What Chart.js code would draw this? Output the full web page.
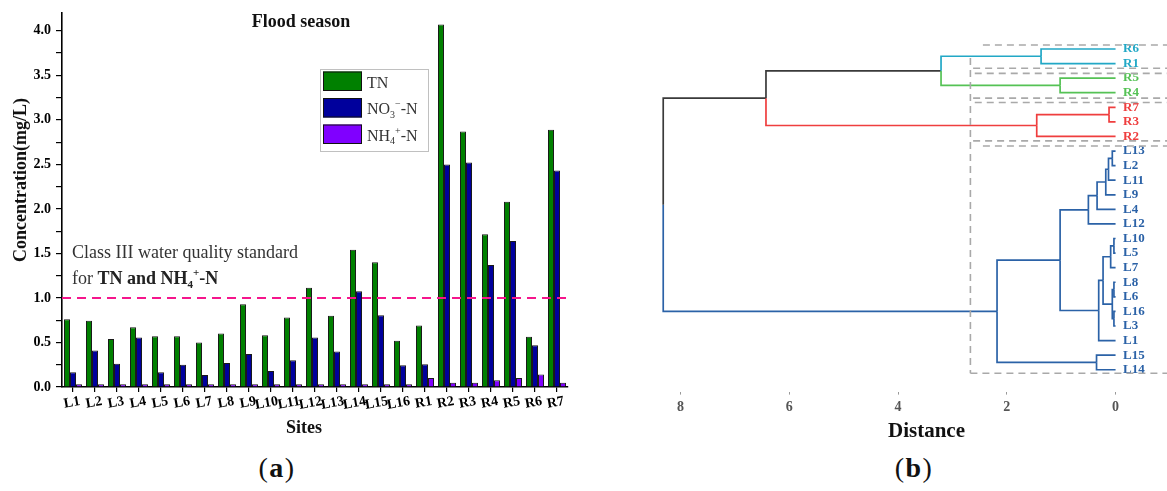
<!DOCTYPE html>
<html>
<head>
<meta charset="utf-8">
<script src="https://cdn.jsdelivr.net/npm/chart.js@4/dist/chart.umd.min.js"></script>
<style>
  body { margin: 0; background: #fff; }
  #wrap { position: relative; width: 1167px; height: 491px; overflow: hidden; font-family: "Liberation Serif", serif; }
  #chartA { position: absolute; left: 0; top: 0; }
  #chartB { position: absolute; left: 600px; top: 0; }
  .cap { position: absolute; top: 452px; width: 90px; text-align: center; font-size: 28px; color: #111; letter-spacing: 1.5px; }
</style>
</head>
<body>
<div id="wrap">
  <canvas id="chartA" width="590" height="445"></canvas>
  <canvas id="chartB" width="567" height="445"></canvas>
  <div class="cap" style="left:232px">(<b>a</b>)</div>
  <div class="cap" style="left:869px">(<b>b</b>)</div>
</div>
<script>
// ---- panel (a): flood season concentrations ----
const sites = ['L1', 'L2', 'L3', 'L4', 'L5', 'L6', 'L7', 'L8', 'L9', 'L10', 'L11', 'L12',
  'L13', 'L14', 'L15', 'L16', 'R1', 'R2', 'R3', 'R4', 'R5', 'R6', 'R7'];
const tnValues = [0.76, 0.745, 0.54, 0.67, 0.57, 0.57, 0.50, 0.60, 0.93, 0.58, 0.78, 1.115,
  0.80, 1.54, 1.40, 0.52, 0.69, 4.07, 2.87, 1.715, 2.08, 0.565, 2.89];
const no3Values = [0.165, 0.41, 0.26, 0.555, 0.165, 0.25, 0.135, 0.27, 0.37, 0.18, 0.30, 0.555,
  0.40, 1.075, 0.805, 0.245, 0.255, 2.50, 2.52, 1.37, 1.64, 0.47, 2.43];
const nh4Values = [0.03, 0.03, 0.03, 0.03, 0.03, 0.03, 0.03, 0.03, 0.03, 0.03, 0.03, 0.03,
  0.03, 0.03, 0.03, 0.03, 0.10, 0.048, 0.048, 0.075, 0.10, 0.14, 0.048];
const seriesNames = ['TN', 'NO_{3}^{\u2212}-N', 'NH_{4}^{+}-N'];
const yMajorTicks = [0, 0.5, 1.0, 1.5, 2.0, 2.5, 3.0, 3.5, 4.0];
const standardValue = 1.0;

// ---- panel (b): dendrogram ----
const leaves = ['R6', 'R1', 'R5', 'R4', 'R7', 'R3', 'R2', 'L13', 'L2', 'L11', 'L9', 'L4', 'L12',
  'L10', 'L5', 'L7', 'L8', 'L6', 'L16', 'L3', 'L1', 'L15', 'L14'];
const leafCluster = ['c', 'c', 'g', 'g', 'r', 'r', 'r', 'b', 'b', 'b', 'b', 'b', 'b',
  'b', 'b', 'b', 'b', 'b', 'b', 'b', 'b', 'b', 'b'];
// merge k creates node 23 + k from nodes mergeA[k] and mergeB[k]
const mergeA = [7, 23, 24, 25, 26, 13, 28, 16, 18, 30, 29, 33, 27, 21, 35, 4, 38, 0, 2, 40, 42, 43];
const mergeB = [8, 9, 10, 11, 12, 14, 15, 17, 19, 31, 32, 20, 34, 22, 36, 5, 6, 1, 3, 41, 39, 37];
const mergeHeight = [0.06, 0.13, 0.18, 0.34, 0.50, 0.03, 0.09, 0.03, 0.03, 0.06, 0.23, 0.31,
  1.02, 0.35, 2.18, 0.12, 1.45, 1.37, 1.02, 3.21, 6.43, 8.32];
const distanceTicks = [0, 2, 4, 6, 8];
// cluster cut boxes (leaf position of each edge, distance where the dash starts)
const cutDistance = 2.67;
const boxEdgePos = [-0.27, 1.32, 1.67, 3.37, 3.67, 6.30, 6.65, 22.24];
const boxEdgeStart = [2.44, 2.62, 2.59, 2.62, 2.59, 2.62, 2.44, 2.67];

const clusterColors = { c: '#22a8c6', g: '#55c255', r: '#ef3e3e', b: '#2b62a7', k: '#3a3a3a' };
const SERIF = '"Liberation Serif", serif';
Chart.defaults.font.family = SERIF;

function parseRich(s) {
  const out = [];
  const re = /([_^])\{([^}]*)\}|([^_^]+)/g;
  let m;
  while ((m = re.exec(s))) out.push(m[3] !== undefined ? { t: m[3], k: '' } : { t: m[2], k: m[1] });
  return out;
}
function plain(s) { return s.replace(/[_^]\{([^}]*)\}/g, '$1'); }
function drawRich(ctx, s, x, y, size, weight, color) {
  ctx.fillStyle = color;
  ctx.textAlign = 'left';
  ctx.textBaseline = 'alphabetic';
  for (const p of parseRich(s)) {
    const small = p.k !== '';
    ctx.font = weight + ' ' + (small ? Math.round(size * 0.62) : size) + 'px ' + SERIF;
    const dy = p.k === '_' ? size * 0.22 : (p.k === '^' ? -size * 0.42 : 0);
    ctx.fillText(p.t, x, y + dy);
    x += ctx.measureText(p.t).width;
  }
  return x;
}

// dashed standard line + texts + legend for panel (a)
const panelAExtras = {
  id: 'panelAExtras',
  afterDatasetsDraw(chart) {
    const { ctx, chartArea, scales } = chart;
    const y = scales.y.getPixelForValue(standardValue);
    ctx.save();
    ctx.strokeStyle = '#f5168c';
    ctx.lineWidth = 2;
    ctx.setLineDash([9, 6]);
    ctx.beginPath();
    ctx.moveTo(chartArea.left, y);
    ctx.lineTo(chartArea.right, y);
    ctx.stroke();
    ctx.restore();
  },
  afterDraw(chart) {
    const { ctx } = chart;
    ctx.save();
    ctx.fillStyle = '#111';
    ctx.font = 'bold 18px ' + SERIF;
    ctx.textAlign = 'center';
    ctx.fillText('Flood season', 301, 26.5);
    ctx.fillText('Sites', 304, 433);
    ctx.save();
    ctx.translate(25.5, 180);
    ctx.rotate(-Math.PI / 2);
    ctx.fillText('Concentration(mg/L)', 0, 0);
    ctx.restore();

    drawRich(ctx, 'Class III water quality standard', 72, 258, 18, 'normal', '#333');
    const x2 = drawRich(ctx, 'for ', 72, 284, 18, 'normal', '#333');
    drawRich(ctx, 'TN and NH_{4}^{+}-N', x2, 284, 18, 'bold', '#222');

    // legend
    ctx.strokeStyle = '#c0c0c0';
    ctx.lineWidth = 1;
    ctx.strokeRect(320.5, 69.5, 108, 82);
    chart.data.datasets.forEach((ds, i) => {
      const top = 71.5 + i * 26.5;
      ctx.fillStyle = ds.backgroundColor;
      ctx.fillRect(323, top, 39, 19.5);
      ctx.strokeStyle = '#111';
      ctx.strokeRect(323.5, top + 0.5, 38, 18.5);
      drawRich(ctx, seriesNames[i], 367, top + 16, 16, 'normal', '#333');
    });
    ctx.restore();
  }
};

const barColors = ['#008000', '#00009c', '#8000ff'];
const seriesValues = [tnValues, no3Values, nh4Values];

new Chart(document.getElementById('chartA'), {
  type: 'bar',
  data: {
    labels: sites,
    datasets: seriesValues.map((vals, i) => ({
      label: plain(seriesNames[i]),
      data: vals,
      backgroundColor: barColors[i],
      borderColor: '#1a1a1a',
      borderWidth: 1,
      categoryPercentage: 0.82,
      barPercentage: 1.0
    }))
  },
  options: {
    responsive: false,
    animation: false,
    events: [],
    layout: { autoPadding: false, padding: { top: 13, left: 0, right: 22, bottom: 0 } },
    plugins: { legend: { display: false }, tooltip: { enabled: false } },
    scales: {
      x: {
        offset: true,
        grid: { drawOnChartArea: false, offset: false, tickLength: 5, color: '#000', lineWidth: 1.2 },
        border: { color: '#000', width: 1.6 },
        ticks: {
          autoSkip: false, minRotation: 10, maxRotation: 10, labelOffset: 7, padding: 1,
          color: '#000', font: { size: 14, weight: 'bold' }
        },
        afterFit(s) { s.height = 58; s.paddingLeft = 0; s.paddingRight = 0; }
      },
      y: {
        min: 0,
        max: 4.2,
        afterBuildTicks(s) {
          const t = [];
          yMajorTicks.forEach((v, i) => {
            t.push({ value: v });
            if (i < yMajorTicks.length - 1) t.push({ value: (v + yMajorTicks[i + 1]) / 2 });
          });
          s.ticks = t;
        },
        grid: { drawOnChartArea: false, tickLength: 6, color: '#000', lineWidth: 1.2 },
        border: { color: '#000', width: 1.6 },
        ticks: {
          padding: 5, color: '#000', font: { size: 14, weight: 'bold' },
          callback: v => (yMajorTicks.includes(v) ? v.toFixed(1) : '')
        },
        afterFit(s) { s.width = 62; s.paddingTop = 0; s.paddingBottom = 0; }
      }
    }
  },
  plugins: [panelAExtras]
});

// ---- build dendrogram geometry in data units ----
const nLeaf = leaves.length;
const nodePos = leaves.map((_, i) => i);
const nodeH = leaves.map(() => 0);
const nodeCol = leafCluster.slice();
mergeA.forEach((a, k) => {
  const b = mergeB[k];
  nodePos.push((nodePos[a] + nodePos[b]) / 2);
  nodeH.push(mergeHeight[k]);
  nodeCol.push(nodeCol[a] === nodeCol[b] ? nodeCol[a] : 'k');
});

const treeSets = [];
mergeA.forEach((a, k) => {
  const node = nLeaf + k;
  [a, mergeB[k]].forEach(c => {
    treeSets.push({
      data: [
        { x: nodeH[c], y: nodePos[c] },
        { x: mergeHeight[k], y: nodePos[c] },
        { x: mergeHeight[k], y: nodePos[node] }
      ],
      borderColor: clusterColors[nodeCol[c]],
      borderWidth: 1.7
    });
  });
});

const boxStyle = { borderColor: '#a9a9a9', borderWidth: 1.6, borderDash: [7, 5], clip: false };
const boxSets = boxEdgePos.map((p, i) => Object.assign({
  data: [{ x: boxEdgeStart[i], y: p }, { x: -1.2, y: p }]
}, boxStyle));
boxSets.push(Object.assign({
  data: [{ x: cutDistance, y: 0.62 }, { x: cutDistance, y: boxEdgePos[boxEdgePos.length - 1] }]
}, boxStyle));

const panelBExtras = {
  id: 'panelBExtras',
  afterDraw(chart) {
    const { ctx } = chart;
    ctx.save();
    ctx.fillStyle = '#111';
    ctx.font = 'bold 21px ' + SERIF;
    ctx.textAlign = 'center';
    ctx.fillText('Distance', 326.5, 437);
    ctx.restore();
  }
};

new Chart(document.getElementById('chartB'), {
  type: 'scatter',
  data: {
    datasets: boxSets.concat(treeSets).map(d => Object.assign({
      showLine: true, pointRadius: 0, fill: false, tension: 0
    }, d))
  },
  options: {
    responsive: false,
    animation: false,
    events: [],
    layout: { autoPadding: false, padding: { top: 34.4, left: 48, right: 0, bottom: 0 } },
    plugins: { legend: { display: false }, tooltip: { enabled: false } },
    scales: {
      x: {
        type: 'linear',
        reverse: true,
        min: -0.1,
        max: 8.6,
        afterBuildTicks(s) { s.ticks = distanceTicks.map(v => ({ value: v })); },
        grid: { drawOnChartArea: false, tickLength: 3, color: '#999' },
        border: { display: false },
        ticks: { padding: 4, color: '#555', font: { size: 14, weight: 'bold' } },
        afterFit(s) { s.height = 53.4; s.paddingLeft = 0; s.paddingRight = 0; }
      },
      y: {
        type: 'linear',
        position: 'right',
        reverse: true,
        min: -1,
        max: 23.5,
        afterBuildTicks(s) { s.ticks = leaves.map((_, i) => ({ value: i })); },
        grid: { display: false, drawTicks: false },
        border: { display: false },
        ticks: {
          autoSkip: false, padding: 2, font: { size: 13, weight: 'bold' },
          color: c => clusterColors[leafCluster[c.index]],
          callback: v => leaves[v]
        },
        afterFit(s) { s.width = 46; s.paddingTop = 0; s.paddingBottom = 0; }
      }
    }
  },
  plugins: [panelBExtras]
});
</script>
</body>
</html>
